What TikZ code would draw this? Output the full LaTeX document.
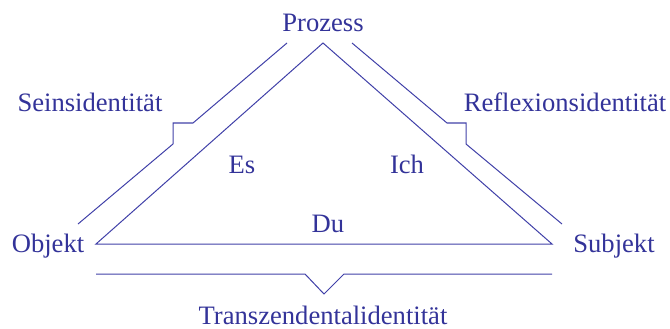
\documentclass[tikz,border=0pt]{standalone}
\usepackage{fontspec}
\setmainfont{Liberation Serif}
\definecolor{ink}{RGB}{51,51,153}
\definecolor{wire}{RGB}{64,64,168}
\begin{document}
\begin{tikzpicture}[x=1pt,y=-1pt,
  lbl/.style={anchor=base,inner sep=0pt,text=ink,font=\fontsize{26.6}{30}\selectfont},
  wireline/.style={draw=wire,line width=1pt,line join=miter}]
\useasboundingbox (0,0) rectangle (670,329);
% triangle vertices
\coordinate (A) at (323,43);
\coordinate (L) at (96,244);
\coordinate (R) at (552,244);
\draw[wireline] (L) -- (A) -- (R) -- cycle;
% left bracket
\coordinate (l1) at (287,43);
\coordinate (l2) at (193,123);
\coordinate (l3) at (173,123);
\coordinate (l4) at (173,144);
\coordinate (l5) at (78,224);
\draw[wireline] (l1) -- (l2) -- (l3) -- (l4) -- (l5);
% right bracket
\coordinate (r1) at (352,43);
\coordinate (r2) at (447,123);
\coordinate (r3) at (466,123);
\coordinate (r4) at (466,144);
\coordinate (r5) at (562,224);
\draw[wireline] (r1) -- (r2) -- (r3) -- (r4) -- (r5);
% bottom bracket
\coordinate (b1) at (96,274);
\coordinate (b2) at (305,274);
\coordinate (b3) at (324,294);
\coordinate (b4) at (344,274);
\coordinate (b5) at (552,274);
\draw[wireline] (b1) -- (b2) -- (b3) -- (b4) -- (b5);
% labels
\node[lbl] (prozess) at (323,32) {Prozess};
\node[lbl] (sein) at (90,111) {Seinsidentität};
\node[lbl] (refl) at (565,111) {Reflexionsidentität};
\node[lbl] (es) at (242,173) {Es};
\node[lbl] (ich) at (407,173) {Ich};
\node[lbl] (du) at (328,232) {Du};
\node[lbl] (objekt) at (48,252) {Objekt};
\node[lbl] (subjekt) at (614,252) {Subjekt};
\node[lbl] (trans) at (323,324) {Transzendentalidentität};
\end{tikzpicture}
\end{document}
